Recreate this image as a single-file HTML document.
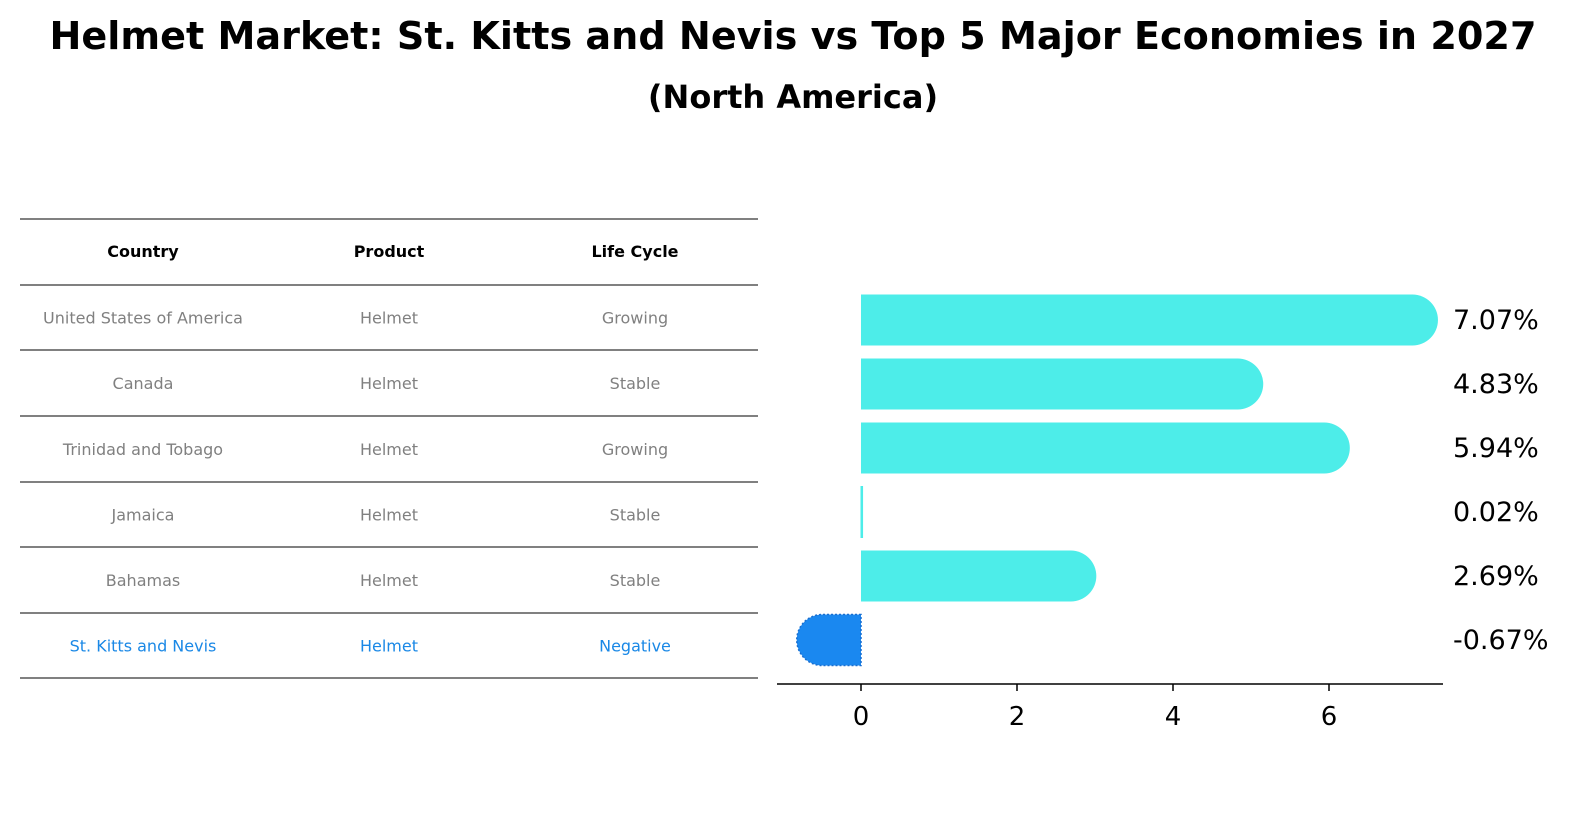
<!DOCTYPE html>
<html><head><meta charset="utf-8"><style>
html,body{margin:0;padding:0;overflow:hidden;background:#fff;width:1596px;height:823px}
svg{display:block}
</style></head><body>
<svg width="1596" height="823" xmlns="http://www.w3.org/2000/svg" font-family="DejaVu Sans, Liberation Sans, sans-serif">
<text x="793" y="49" text-anchor="middle" font-size="38" font-weight="bold" textLength="1487" lengthAdjust="spacingAndGlyphs">Helmet Market: St. Kitts and Nevis vs Top 5 Major Economies in 2027</text>
<text x="793" y="108" text-anchor="middle" font-size="32" font-weight="bold">(North America)</text>
<g id="table"></g>
<g id="chart"></g>
</svg>
<script>
const countries=["United States of America","Canada","Trinidad and Tobago","Jamaica","Bahamas","St. Kitts and Nevis"];
const products=["Helmet","Helmet","Helmet","Helmet","Helmet","Helmet"];
const cycles=["Growing","Stable","Growing","Stable","Stable","Negative"];
const values=[7.07,4.83,5.94,0.02,2.69,-0.67];
const ticks=[0,2,4,6];
const NS="http://www.w3.org/2000/svg";
function mk(tag,attrs,parent){const e=document.createElementNS(NS,tag);for(const k in attrs)e.setAttribute(k,attrs[k]);parent.appendChild(e);return e;}
const tbl=document.getElementById('table');
const lineYs=[219,285,350,416,482,547,613,678];
lineYs.forEach((y,i)=>{const l=mk('line',{x1:20,x2:758,y1:y,y2:y,stroke:'#000','stroke-width':1},tbl);

});
const colX=[143,389,635];
["Country","Product","Life Cycle"].forEach((h,i)=>{const t=mk('text',{x:colX[i],y:257,'text-anchor':'middle','font-size':16,'font-weight':'bold'},tbl);t.textContent=h;

});
countries.forEach((c,r)=>{const y=(lineYs[r+1]+lineYs[r+2])/2+6;const col=r===5?'#1a88e6':'#808080';
[c,products[r],cycles[r]].forEach((v,i)=>{const t=mk('text',{x:colX[i],y:y,'text-anchor':'middle','font-size':16,fill:col},tbl);t.textContent=v;

});});
const ch=document.getElementById('chart');
const X=v=>861+v*78;
const Y=i=>320+i*64;
const R=25.5;
values.forEach((v,i)=>{const cy=Y(i),t=cy-R,b=cy+R;let d,fill;
if(v>=0){const xe=X(v);if(v<0.1){d=`M861 ${t}H${xe}V${b}H861Z`;}else d=`M861 ${t}H${xe}A${R} ${R} 0 0 1 ${xe} ${b}H861Z`;fill='#4dede9';}
else{const xe=X(v)+R-12;d=`M861 ${t}H${xe}A${R} ${R} 0 0 0 ${xe} ${b}H861Z`;fill='#1a88f0';}
const p=mk('path',{d:d,fill:fill},ch);
if(v<0){p.setAttribute('stroke','#1a6fd0');p.setAttribute('stroke-dasharray','2 2');p.setAttribute('stroke-width','1.5');}
if(v>=0&&v<0.1){p.setAttribute('stroke','#4dede9');}


const t2=mk('text',{x:1453,y:cy+9,'font-size':27},ch);t2.textContent=v.toFixed(2)+'%';

});
const ax=mk('line',{x1:777,x2:1443,y1:684,y2:684,stroke:'#000','stroke-width':1.5},ch);


ticks.forEach(v=>{const l=mk('line',{x1:X(v),x2:X(v),y1:684,y2:691,stroke:'#000','stroke-width':1.5},ch);


const t=mk('text',{x:X(v),y:725,'text-anchor':'middle','font-size':26},ch);t.textContent=v;

});
</script>
</body></html>
